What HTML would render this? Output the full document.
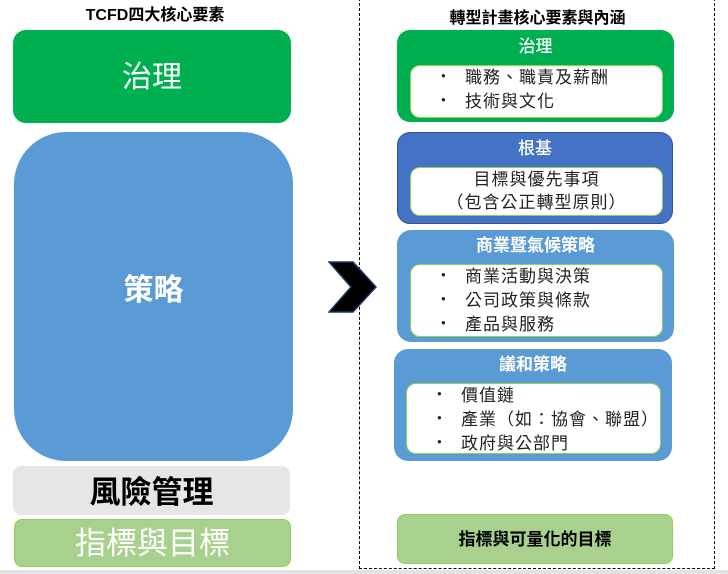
<!DOCTYPE html>
<html><head><meta charset="utf-8"><style>
body{margin:0;width:728px;height:574px;background:#fff;position:relative;overflow:hidden;font-family:"Liberation Sans","Noto Sans CJK TC",sans-serif}
.a{position:absolute;box-sizing:border-box}
.c{display:flex;align-items:center;justify-content:center}
.in{background:#fff;border:1.5px solid #92d050;border-radius:10px;color:#222;font-size:17px;line-height:23px;letter-spacing:1px}
.lbl{color:#fff;font-size:17px;text-align:center;line-height:20px}
ul{margin:0;padding:0;list-style:none}
li::before{content:"●";display:inline-block;width:24px;font-size:8px;vertical-align:middle;position:relative;top:-3px}
</style></head><body>
<div class="a" style="left:0;top:1px;width:310px;text-align:center;font-weight:bold;font-size:16px">TCFD四大核心要素</div>
<div class="a c" style="left:13px;top:30px;width:278px;height:93px;background:#00b050;border-radius:13px;color:#fff;font-size:30px;padding-bottom:6px">治理</div>
<div class="a c" style="left:14px;top:132px;width:279px;height:329px;background:#5b9bd5;border-radius:52px;color:#fff;font-size:30px;font-weight:bold;padding-bottom:20px">策略</div>
<div class="a c" style="left:13px;top:466px;width:277px;height:49px;background:#e6e6e6;border-radius:8px;color:#000;font-size:31px;font-weight:bold;padding-bottom:3px">風險管理</div>
<div class="a c" style="left:14px;top:519px;width:277px;height:48px;background:#a9d18e;border:1px solid #8fce5a;border-radius:8px;color:#fff;font-size:31px;padding-bottom:5px">指標與目標</div>
<div class="a" style="left:0;top:570px;width:728px;height:4px;background:#e2e2e2"></div>
<div class="a" style="left:359px;top:-2px;width:356px;height:571px;border:1.2px dashed #000"></div>
<div class="a" style="left:360px;top:4px;width:355px;text-align:center;font-weight:bold;font-size:16px">轉型計畫核心要素與內涵</div>
<svg class="a" style="left:328px;top:261px" width="50" height="52"><polygon points="1,1 25,1 48,26 25,51 1,51 23,26" fill="#000" stroke="#1f3864" stroke-width="1.5"/></svg>

<div class="a" style="left:397px;top:30px;width:277px;height:92px;background:#00b050;border-radius:13px"></div>
<div class="a lbl" style="left:397px;top:37px;width:277px;font-weight:500">治理</div>
<div class="a in" style="left:410px;top:65px;width:253px;height:53px;padding:0 0 0 30px"><ul><li>職務、職責及薪酬</li><li>技術與文化</li></ul></div>

<div class="a" style="left:397px;top:132px;width:276px;height:92px;background:#4472c4;border:1px solid #2f5597;border-radius:13px"></div>
<div class="a lbl" style="left:397px;top:139px;width:276px;font-weight:500">根基</div>
<div class="a in" style="left:410px;top:167px;width:253px;height:49px;text-align:center;padding-top:0">目標與優先事項<br>（包含公正轉型原則）</div>

<div class="a" style="left:397px;top:230px;width:277px;height:112px;background:#5b9bd5;border-radius:14px"></div>
<div class="a lbl" style="left:397px;top:236px;width:277px;font-weight:bold">商業暨氣候策略</div>
<div class="a in" style="left:410px;top:264px;width:253px;height:73px;padding:0 0 0 30px"><ul><li>商業活動與決策</li><li>公司政策與條款</li><li>產品與服務</li></ul></div>

<div class="a" style="left:394px;top:349px;width:278px;height:112px;background:#5b9bd5;border-radius:14px"></div>
<div class="a lbl" style="left:394px;top:355px;width:278px;font-weight:bold">議和策略</div>
<div class="a in" style="left:406px;top:383px;width:255px;height:71px;padding:0 0 0 30px"><ul><li>價值鏈</li><li>產業（如：協會、聯盟）</li><li>政府與公部門</li></ul></div>

<div class="a c" style="left:397px;top:514px;width:276px;height:50px;background:#a9d18e;border:1px solid #8fce5a;border-radius:8px;font-weight:bold;font-size:17px;padding-bottom:4px">指標與可量化的目標</div>
</body></html>
